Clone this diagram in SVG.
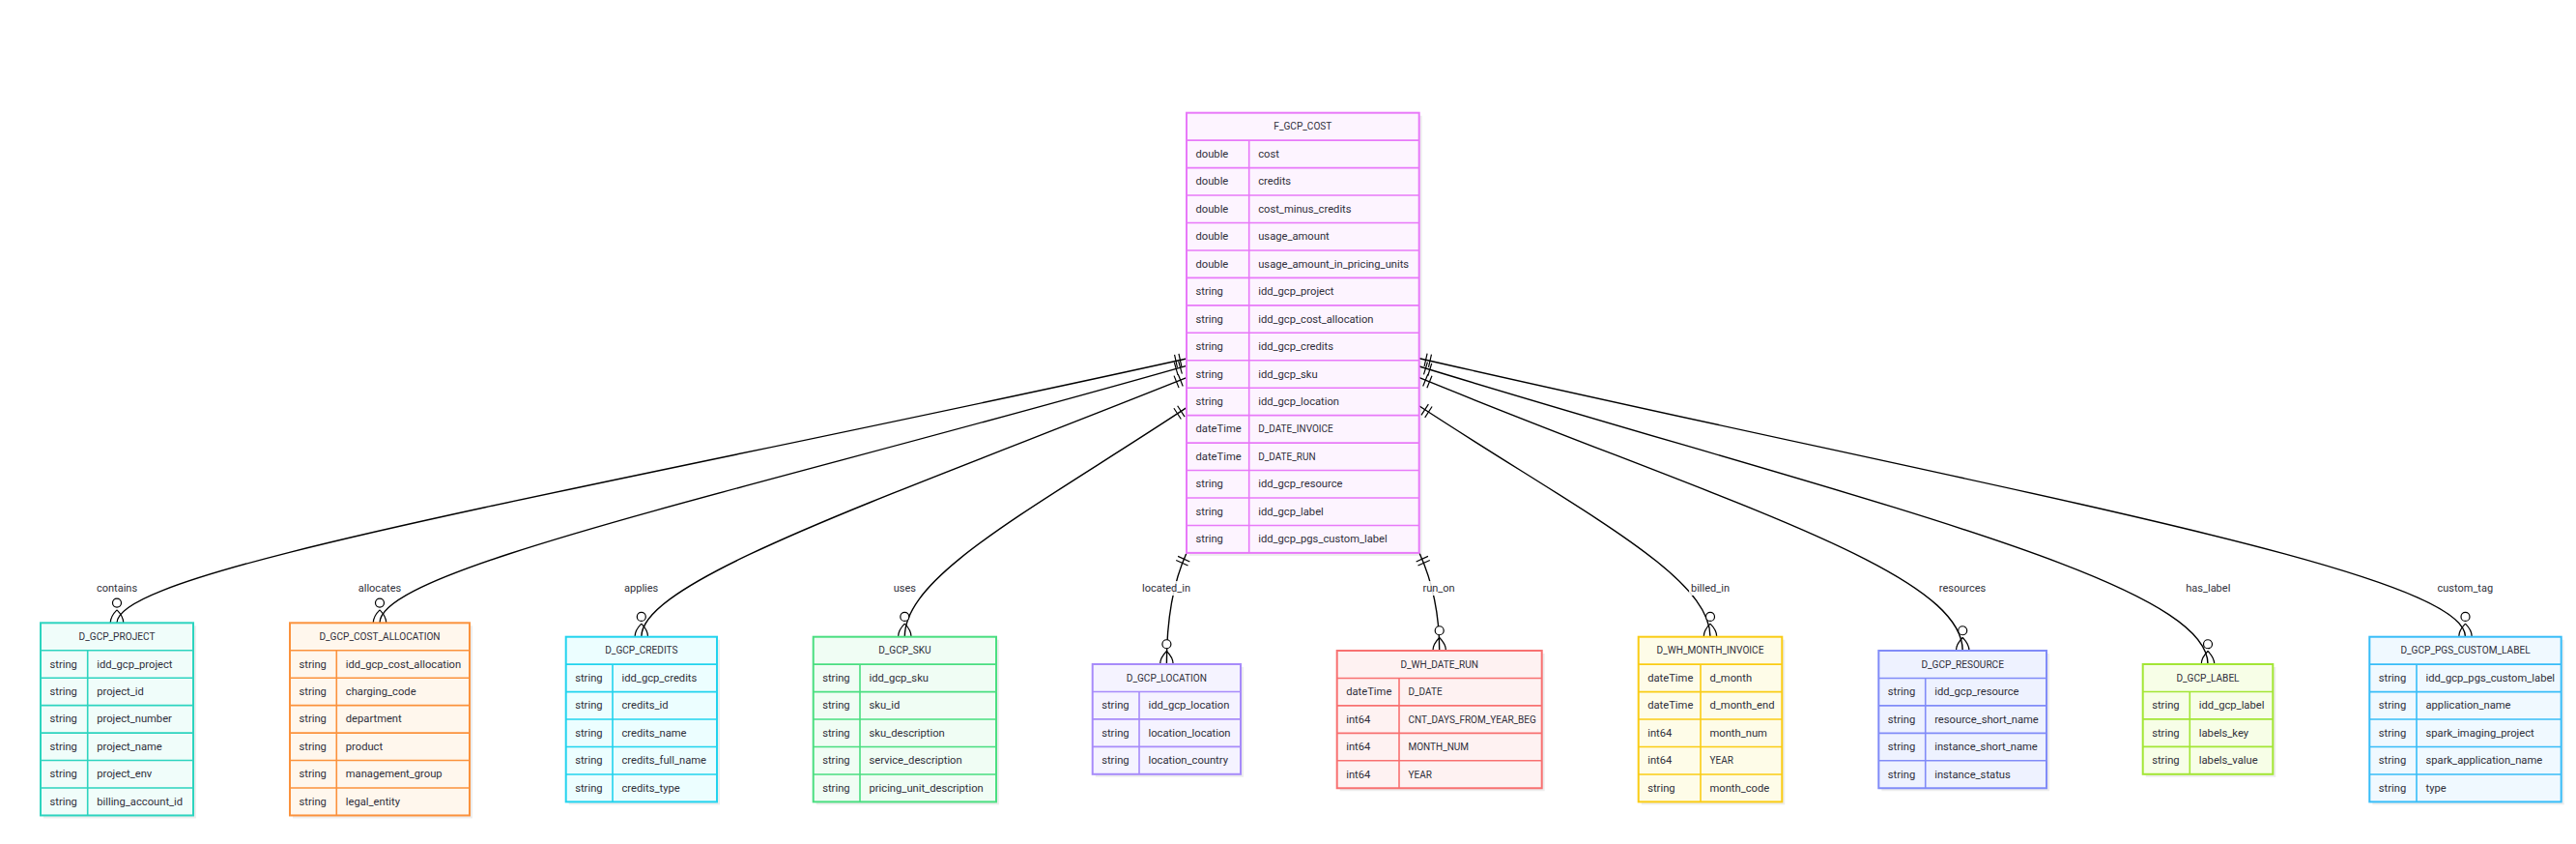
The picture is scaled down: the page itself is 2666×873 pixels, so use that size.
<svg xmlns="http://www.w3.org/2000/svg" width="2666" height="873" viewBox="0 0 2666 873">
<style>
.ent text{font-family:Roboto,"Liberation Sans",sans-serif;fill:#2f2f3a;stroke:none;dominant-baseline:central}
.ty,.nm{font-size:11.2px}
.cap{font-size:10px}
.hd{font-size:10.1px;text-anchor:middle}
.box{stroke-width:2}
.sep{stroke-width:1.6;fill:none}
.sh{fill:#000;opacity:.07;stroke:none}
.edge{fill:none;stroke:#000;stroke-width:1.4;marker-start:url(#one);marker-end:url(#zmany)}
.lbg{fill:#fff;opacity:.85}
.lbl{font-family:Roboto,"Liberation Sans",sans-serif;font-size:11px;fill:#2f2f3a;text-anchor:middle;dominant-baseline:central}
.fuchsia{stroke:#e879f9}.fuchsia .box{fill:#fdf4ff}
.teal{stroke:#2dd4bf}.teal .box{fill:#f0fdfa}
.orange{stroke:#fb923c}.orange .box{fill:#fff7ed}
.cyan{stroke:#22d3ee}.cyan .box{fill:#ecfeff}
.green{stroke:#4ade80}.green .box{fill:#f0fdf4}
.violet{stroke:#a78bfa}.violet .box{fill:#f5f3ff}
.red{stroke:#f87171}.red .box{fill:#fef2f2}
.yellow{stroke:#facc15}.yellow .box{fill:#fefce8}
.indigo{stroke:#818cf8}.indigo .box{fill:#eef2ff}
.lime{stroke:#a3e635}.lime .box{fill:#f7fee7}
.sky{stroke:#38bdf8}.sky .box{fill:#f0f9ff}
</style>
<defs>
<marker id="one" markerUnits="userSpaceOnUse" markerWidth="14" markerHeight="14" refX="0" refY="6.75" orient="auto" overflow="visible">
<path d="M6.75,0 L6.75,13.5 M11.25,0 L11.25,13.5" stroke="#000" stroke-width="1.2" fill="none"/>
</marker>
<marker id="zmany" markerUnits="userSpaceOnUse" markerWidth="43" markerHeight="27" refX="29.25" refY="13.5" orient="auto" overflow="visible">
<circle cx="8.5" cy="13.5" r="4.5" fill="#fff" stroke="#000" stroke-width="1.2"/>
<path d="M15.75,13.5 Q29.25,0 42.75,13.5 Q29.25,27 15.75,13.5" fill="none" stroke="#000" stroke-width="1.2"/>
</marker>
</defs>
<rect x="0" y="0" width="2666" height="873" fill="#fff"/>

<g id="connectors">
<path class="edge" d="M1228,371 C619.1,505.6 121,588 121,644.3"/>
<path class="edge" d="M1228,378.3 C768.7,509.2 393,588 393,644.3"/>
<path class="edge" d="M1228,390.7 C917.7,514.8 663.8,600 663.8,658.7"/>
<path class="edge" d="M1228,421.7 C1067.6,527.6 936.3,595 936.3,658.7"/>
<path class="edge" d="M1228,572 C1218,594 1207.4,630 1207.4,687"/>
<path class="edge" d="M1469,572 C1479,594 1489.7,625 1489.7,673"/>
<path class="edge" d="M1469,420 C1634.6,528.6 1770,595 1770,658.7"/>
<path class="edge" d="M1469,390.7 C1778.2,517.5 2031.2,590 2031.2,673"/>
<path class="edge" d="M1469,379 C1918,516.4 2285,600 2285,687"/>
<path class="edge" d="M1469,370.7 C2064.4,507 2551.5,590 2551.5,658.7"/>
<g id="edge-labels">
<rect class="lbg" x="98" y="601" width="46" height="15"/><text class="lbl" x="121" y="608.5">contains</text>
<rect class="lbg" x="369" y="601" width="48" height="15"/><text class="lbl" x="393" y="608.5">allocates</text>
<rect class="lbg" x="644" y="601" width="39" height="15"/><text class="lbl" x="663.7" y="608.5">applies</text>
<rect class="lbg" x="923" y="601" width="27" height="15"/><text class="lbl" x="936.3" y="608.5">uses</text>
<rect class="lbg" x="1180" y="601" width="54" height="15"/><text class="lbl" x="1207" y="608.5">located_in</text>
<rect class="lbg" x="1471" y="601" width="37" height="15"/><text class="lbl" x="1489" y="608.5">run_on</text>
<rect class="lbg" x="1748" y="601" width="44" height="15"/><text class="lbl" x="1770" y="608.5">billed_in</text>
<rect class="lbg" x="2005" y="601" width="52" height="15"/><text class="lbl" x="2031" y="608.5">resources</text>
<rect class="lbg" x="2260" y="601" width="50" height="15"/><text class="lbl" x="2285.3" y="608.5">has_label</text>
<rect class="lbg" x="2520" y="601" width="62" height="15"/><text class="lbl" x="2551.3" y="608.5">custom_tag</text>
</g>
</g>

<g id="F_GCP_COST" class="ent fuchsia">
<rect class="sh" x="1231" y="119.7" width="240.7" height="455.2"/>
<rect class="box" x="1228" y="116.7" width="240.7" height="455.2"/>
<path class="sep" d="M1228,145.15h240.7M1228,173.6h240.7M1228,202.05h240.7M1228,230.5h240.7M1228,258.95h240.7M1228,287.4h240.7M1228,315.85h240.7M1228,344.3h240.7M1228,372.75h240.7M1228,401.2h240.7M1228,429.65h240.7M1228,458.1h240.7M1228,486.55h240.7M1228,515h240.7M1228,543.45h240.7M1292.7,145.15V571.9"/>
<text class="hd" x="1348.35" y="130.9">F_GCP_COST</text>
<text class="ty" x="1237.5" y="159.4">double</text><text class="nm" x="1302.2" y="159.4">cost</text>
<text class="ty" x="1237.5" y="187.8">double</text><text class="nm" x="1302.2" y="187.8">credits</text>
<text class="ty" x="1237.5" y="216.3">double</text><text class="nm" x="1302.2" y="216.3">cost_minus_credits</text>
<text class="ty" x="1237.5" y="244.7">double</text><text class="nm" x="1302.2" y="244.7">usage_amount</text>
<text class="ty" x="1237.5" y="273.2">double</text><text class="nm" x="1302.2" y="273.2">usage_amount_in_pricing_units</text>
<text class="ty" x="1237.5" y="301.6">string</text><text class="nm" x="1302.2" y="301.6">idd_gcp_project</text>
<text class="ty" x="1237.5" y="330.1">string</text><text class="nm" x="1302.2" y="330.1">idd_gcp_cost_allocation</text>
<text class="ty" x="1237.5" y="358.5">string</text><text class="nm" x="1302.2" y="358.5">idd_gcp_credits</text>
<text class="ty" x="1237.5" y="387">string</text><text class="nm" x="1302.2" y="387">idd_gcp_sku</text>
<text class="ty" x="1237.5" y="415.4">string</text><text class="nm" x="1302.2" y="415.4">idd_gcp_location</text>
<text class="ty" x="1237.5" y="443.9">dateTime</text><text class="nm cap" x="1302.2" y="443.9">D_DATE_INVOICE</text>
<text class="ty" x="1237.5" y="472.3">dateTime</text><text class="nm cap" x="1302.2" y="472.3">D_DATE_RUN</text>
<text class="ty" x="1237.5" y="500.8">string</text><text class="nm" x="1302.2" y="500.8">idd_gcp_resource</text>
<text class="ty" x="1237.5" y="529.2">string</text><text class="nm" x="1302.2" y="529.2">idd_gcp_label</text>
<text class="ty" x="1237.5" y="557.7">string</text><text class="nm" x="1302.2" y="557.7">idd_gcp_pgs_custom_label</text>
</g>

<g id="D_GCP_PROJECT" class="ent teal">
<rect class="sh" x="45" y="647.3" width="158" height="199.15"/>
<rect class="box" x="42" y="644.3" width="158" height="199.15"/>
<path class="sep" d="M42,672.75h158M42,701.2h158M42,729.65h158M42,758.1h158M42,786.55h158M42,815h158M90.7,672.75V843.45"/>
<text class="hd" x="121" y="658.5">D_GCP_PROJECT</text>
<text class="ty" x="51.5" y="687">string</text><text class="nm" x="100.2" y="687">idd_gcp_project</text>
<text class="ty" x="51.5" y="715.4">string</text><text class="nm" x="100.2" y="715.4">project_id</text>
<text class="ty" x="51.5" y="743.9">string</text><text class="nm" x="100.2" y="743.9">project_number</text>
<text class="ty" x="51.5" y="772.3">string</text><text class="nm" x="100.2" y="772.3">project_name</text>
<text class="ty" x="51.5" y="800.8">string</text><text class="nm" x="100.2" y="800.8">project_env</text>
<text class="ty" x="51.5" y="829.2">string</text><text class="nm" x="100.2" y="829.2">billing_account_id</text>
</g>

<g id="D_GCP_COST_ALLOCATION" class="ent orange">
<rect class="sh" x="303" y="647.3" width="186" height="199.15"/>
<rect class="box" x="300" y="644.3" width="186" height="199.15"/>
<path class="sep" d="M300,672.75h186M300,701.2h186M300,729.65h186M300,758.1h186M300,786.55h186M300,815h186M348.3,672.75V843.45"/>
<text class="hd" x="393" y="658.5">D_GCP_COST_ALLOCATION</text>
<text class="ty" x="309.5" y="687">string</text><text class="nm" x="357.8" y="687">idd_gcp_cost_allocation</text>
<text class="ty" x="309.5" y="715.4">string</text><text class="nm" x="357.8" y="715.4">charging_code</text>
<text class="ty" x="309.5" y="743.9">string</text><text class="nm" x="357.8" y="743.9">department</text>
<text class="ty" x="309.5" y="772.3">string</text><text class="nm" x="357.8" y="772.3">product</text>
<text class="ty" x="309.5" y="800.8">string</text><text class="nm" x="357.8" y="800.8">management_group</text>
<text class="ty" x="309.5" y="829.2">string</text><text class="nm" x="357.8" y="829.2">legal_entity</text>
</g>

<g id="D_GCP_CREDITS" class="ent cyan">
<rect class="sh" x="588.7" y="661.7" width="156.3" height="170.7"/>
<rect class="box" x="585.7" y="658.7" width="156.3" height="170.7"/>
<path class="sep" d="M585.7,687.15h156.3M585.7,715.6h156.3M585.7,744.05h156.3M585.7,772.5h156.3M585.7,800.95h156.3M634,687.15V829.4"/>
<text class="hd" x="663.85" y="672.9">D_GCP_CREDITS</text>
<text class="ty" x="595.2" y="701.4">string</text><text class="nm" x="643.5" y="701.4">idd_gcp_credits</text>
<text class="ty" x="595.2" y="729.8">string</text><text class="nm" x="643.5" y="729.8">credits_id</text>
<text class="ty" x="595.2" y="758.3">string</text><text class="nm" x="643.5" y="758.3">credits_name</text>
<text class="ty" x="595.2" y="786.7">string</text><text class="nm" x="643.5" y="786.7">credits_full_name</text>
<text class="ty" x="595.2" y="815.2">string</text><text class="nm" x="643.5" y="815.2">credits_type</text>
</g>

<g id="D_GCP_SKU" class="ent green">
<rect class="sh" x="844.7" y="661.7" width="189.3" height="170.7"/>
<rect class="box" x="841.7" y="658.7" width="189.3" height="170.7"/>
<path class="sep" d="M841.7,687.15h189.3M841.7,715.6h189.3M841.7,744.05h189.3M841.7,772.5h189.3M841.7,800.95h189.3M890,687.15V829.4"/>
<text class="hd" x="936.35" y="672.9">D_GCP_SKU</text>
<text class="ty" x="851.2" y="701.4">string</text><text class="nm" x="899.5" y="701.4">idd_gcp_sku</text>
<text class="ty" x="851.2" y="729.8">string</text><text class="nm" x="899.5" y="729.8">sku_id</text>
<text class="ty" x="851.2" y="758.3">string</text><text class="nm" x="899.5" y="758.3">sku_description</text>
<text class="ty" x="851.2" y="786.7">string</text><text class="nm" x="899.5" y="786.7">service_description</text>
<text class="ty" x="851.2" y="815.2">string</text><text class="nm" x="899.5" y="815.2">pricing_unit_description</text>
</g>

<g id="D_GCP_LOCATION" class="ent violet">
<rect class="sh" x="1133.7" y="690" width="153.3" height="113.8"/>
<rect class="box" x="1130.7" y="687" width="153.3" height="113.8"/>
<path class="sep" d="M1130.7,715.45h153.3M1130.7,743.9h153.3M1130.7,772.35h153.3M1179,715.45V800.8"/>
<text class="hd" x="1207.35" y="701.2">D_GCP_LOCATION</text>
<text class="ty" x="1140.2" y="729.7">string</text><text class="nm" x="1188.5" y="729.7">idd_gcp_location</text>
<text class="ty" x="1140.2" y="758.1">string</text><text class="nm" x="1188.5" y="758.1">location_location</text>
<text class="ty" x="1140.2" y="786.6">string</text><text class="nm" x="1188.5" y="786.6">location_country</text>
</g>

<g id="D_WH_DATE_RUN" class="ent red">
<rect class="sh" x="1386.7" y="676" width="212" height="142.25"/>
<rect class="box" x="1383.7" y="673" width="212" height="142.25"/>
<path class="sep" d="M1383.7,701.45h212M1383.7,729.9h212M1383.7,758.35h212M1383.7,786.8h212M1448,701.45V815.25"/>
<text class="hd" x="1489.7" y="687.2">D_WH_DATE_RUN</text>
<text class="ty" x="1393.2" y="715.7">dateTime</text><text class="nm cap" x="1457.5" y="715.7">D_DATE</text>
<text class="ty" x="1393.2" y="744.1">int64</text><text class="nm cap" x="1457.5" y="744.1">CNT_DAYS_FROM_YEAR_BEG</text>
<text class="ty" x="1393.2" y="772.6">int64</text><text class="nm cap" x="1457.5" y="772.6">MONTH_NUM</text>
<text class="ty" x="1393.2" y="801">int64</text><text class="nm cap" x="1457.5" y="801">YEAR</text>
</g>

<g id="D_WH_MONTH_INVOICE" class="ent yellow">
<rect class="sh" x="1698.7" y="661.7" width="148.6" height="170.7"/>
<rect class="box" x="1695.7" y="658.7" width="148.6" height="170.7"/>
<path class="sep" d="M1695.7,687.15h148.6M1695.7,715.6h148.6M1695.7,744.05h148.6M1695.7,772.5h148.6M1695.7,800.95h148.6M1760,687.15V829.4"/>
<text class="hd" x="1770" y="672.9">D_WH_MONTH_INVOICE</text>
<text class="ty" x="1705.2" y="701.4">dateTime</text><text class="nm" x="1769.5" y="701.4">d_month</text>
<text class="ty" x="1705.2" y="729.8">dateTime</text><text class="nm" x="1769.5" y="729.8">d_month_end</text>
<text class="ty" x="1705.2" y="758.3">int64</text><text class="nm" x="1769.5" y="758.3">month_num</text>
<text class="ty" x="1705.2" y="786.7">int64</text><text class="nm cap" x="1769.5" y="786.7">YEAR</text>
<text class="ty" x="1705.2" y="815.2">string</text><text class="nm" x="1769.5" y="815.2">month_code</text>
</g>

<g id="D_GCP_RESOURCE" class="ent indigo">
<rect class="sh" x="1947.3" y="676" width="173.7" height="142.25"/>
<rect class="box" x="1944.3" y="673" width="173.7" height="142.25"/>
<path class="sep" d="M1944.3,701.45h173.7M1944.3,729.9h173.7M1944.3,758.35h173.7M1944.3,786.8h173.7M1992.7,701.45V815.25"/>
<text class="hd" x="2031.15" y="687.2">D_GCP_RESOURCE</text>
<text class="ty" x="1953.8" y="715.7">string</text><text class="nm" x="2002.2" y="715.7">idd_gcp_resource</text>
<text class="ty" x="1953.8" y="744.1">string</text><text class="nm" x="2002.2" y="744.1">resource_short_name</text>
<text class="ty" x="1953.8" y="772.6">string</text><text class="nm" x="2002.2" y="772.6">instance_short_name</text>
<text class="ty" x="1953.8" y="801">string</text><text class="nm" x="2002.2" y="801">instance_status</text>
</g>

<g id="D_GCP_LABEL" class="ent lime">
<rect class="sh" x="2220.7" y="690" width="134.6" height="113.8"/>
<rect class="box" x="2217.7" y="687" width="134.6" height="113.8"/>
<path class="sep" d="M2217.7,715.45h134.6M2217.7,743.9h134.6M2217.7,772.35h134.6M2266.3,715.45V800.8"/>
<text class="hd" x="2285" y="701.2">D_GCP_LABEL</text>
<text class="ty" x="2227.2" y="729.7">string</text><text class="nm" x="2275.8" y="729.7">idd_gcp_label</text>
<text class="ty" x="2227.2" y="758.1">string</text><text class="nm" x="2275.8" y="758.1">labels_key</text>
<text class="ty" x="2227.2" y="786.6">string</text><text class="nm" x="2275.8" y="786.6">labels_value</text>
</g>

<g id="D_GCP_PGS_CUSTOM_LABEL" class="ent sky">
<rect class="sh" x="2455.3" y="661.7" width="198.4" height="170.7"/>
<rect class="box" x="2452.3" y="658.7" width="198.4" height="170.7"/>
<path class="sep" d="M2452.3,687.15h198.4M2452.3,715.6h198.4M2452.3,744.05h198.4M2452.3,772.5h198.4M2452.3,800.95h198.4M2501,687.15V829.4"/>
<text class="hd" x="2551.5" y="672.9">D_GCP_PGS_CUSTOM_LABEL</text>
<text class="ty" x="2461.8" y="701.4">string</text><text class="nm" x="2510.5" y="701.4">idd_gcp_pgs_custom_label</text>
<text class="ty" x="2461.8" y="729.8">string</text><text class="nm" x="2510.5" y="729.8">application_name</text>
<text class="ty" x="2461.8" y="758.3">string</text><text class="nm" x="2510.5" y="758.3">spark_imaging_project</text>
<text class="ty" x="2461.8" y="786.7">string</text><text class="nm" x="2510.5" y="786.7">spark_application_name</text>
<text class="ty" x="2461.8" y="815.2">string</text><text class="nm" x="2510.5" y="815.2">type</text>
</g>
</svg>
